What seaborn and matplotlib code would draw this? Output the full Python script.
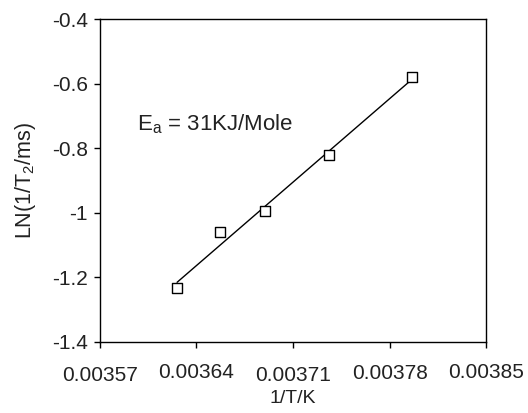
import matplotlib
matplotlib.use("Agg")
import matplotlib.pyplot as plt
import seaborn as sb
import numpy as np
import pandas as pd

# data
invT = [0.003626, 0.003657, 0.003690, 0.003736, 0.003796]
lnRate = [-1.235, -1.060, -0.996, -0.821, -0.580]
xTicks = [0.00357, 0.00364, 0.00371, 0.00378, 0.00385]
xTickLabels = ["0.00357", "0.00364", "0.00371", "0.00378", "0.00385"]
yTicks = [-1.4, -1.2, -1.0, -0.8, -0.6, -0.4]
yTickLabels = ["-1.4", "-1.2", "-1", "-0.8", "-0.6", "-0.4"]

sb.set_style("ticks")
plt.rcParams['font.family'] = ['Liberation Sans', 'DejaVu Sans']
plt.rcParams['mathtext.default'] = 'regular'

df = pd.DataFrame({"invT": invT, "lnRate": lnRate})

fig = plt.figure(figsize=(5.28, 4.13), dpi=100)
ax = fig.add_axes([0.189, 0.173, 0.732, 0.780])

sb.regplot(x="invT", y="lnRate", data=df, ci=None, scatter=False, ax=ax,
           line_kws={"color": "black", "linewidth": 1.0})
sb.scatterplot(x="invT", y="lnRate", data=df, ax=ax, marker="s", s=45,
               facecolor="white", edgecolor="black", linewidth=1.0, zorder=5)

ax.set_xlim(0.00357, 0.00385)
ax.set_ylim(-1.4, -0.4)
ax.set_xticks(xTicks)
ax.set_xticklabels(xTickLabels, fontsize=15, color="#222222")
ax.set_yticks(yTicks)
ax.set_yticklabels(yTickLabels, fontsize=15, color="#222222")
ax.tick_params(axis="both", direction="out", length=4.5, width=1, color="black")
ax.tick_params(axis="y", pad=4)
# staggered x tick labels like the original
for tick, pad in zip(ax.xaxis.get_major_ticks(), [13, 11, 13, 11.5, 11]):
    tick.set_pad(pad)

for s in ax.spines.values():
    s.set_visible(True)
    s.set_color("black")
    s.set_linewidth(1.0)

ax.set_xlabel("1/T/K", fontsize=14, labelpad=4, color="#222222")
ax.set_ylabel("LN(1/T$_2$/ms)", fontsize=15.5, labelpad=10, color="#222222")
ax.text(0.003597, -0.725, "E$_a$ = 31KJ/Mole", fontsize=16, va="center",
        color="#222222")

fig.savefig("out.png", dpi=100)
